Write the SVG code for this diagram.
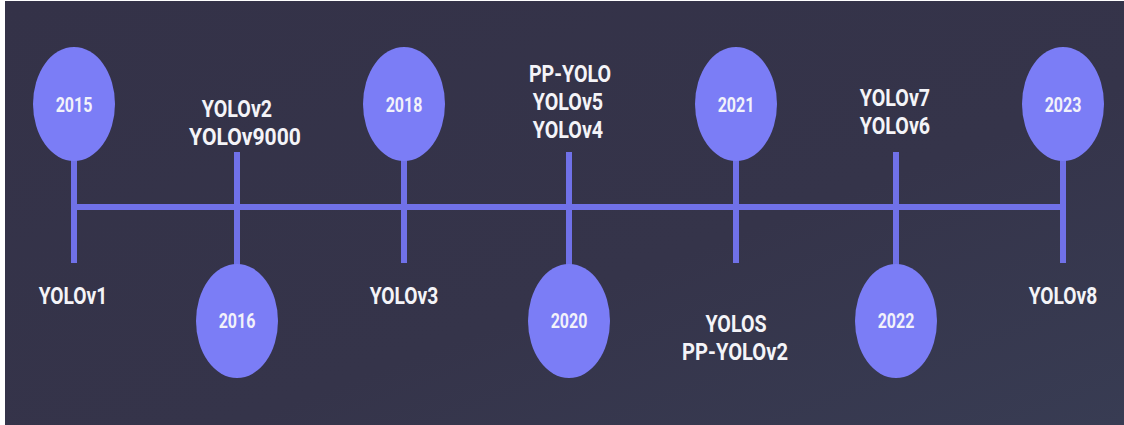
<svg xmlns="http://www.w3.org/2000/svg" width="1124" height="425" viewBox="0 0 1124 425">
  <defs>
    <linearGradient id="bg" x1="0" y1="0" x2="1" y2="1">
      <stop offset="0" stop-color="#343248"/>
      <stop offset="0.6" stop-color="#35344a"/>
      <stop offset="1" stop-color="#383c53"/>
    </linearGradient>
  </defs>
  <style>
    .axis { stroke: #7071e8; stroke-width: 6; stroke-linecap: butt; fill: none; }
    .dot { fill: #7b7df6; }
    .year { font-family: Roboto, "Liberation Sans", sans-serif; font-weight: 700; font-size: 20px; fill: #f2f2fa; text-anchor: middle; }
    .label { font-family: Roboto, "Liberation Sans", sans-serif; font-weight: 700; font-size: 24px; fill: #f4f4f8; text-anchor: middle; }
  </style>

  <!-- backdrop -->
  <rect x="0" y="0" width="1124" height="425" fill="#ffffff"/>
  <rect x="5" y="1" width="1119" height="424" fill="url(#bg)"/>

  <!-- timeline axis and stems -->
  <g id="connectors">
    <line class="axis" x1="74" y1="207" x2="1063" y2="207"/>
    <line class="axis" x1="74" y1="158" x2="74" y2="263"/>
    <line class="axis" x1="237" y1="152" x2="237" y2="268"/>
    <line class="axis" x1="404" y1="158" x2="404" y2="263"/>
    <line class="axis" x1="569" y1="152" x2="569" y2="268"/>
    <line class="axis" x1="736" y1="158" x2="736" y2="263"/>
    <line class="axis" x1="896" y1="152" x2="896" y2="268"/>
    <line class="axis" x1="1063" y1="158" x2="1063" y2="263"/>
  </g>

  <g id="n2015">
    <ellipse class="dot" cx="74" cy="104" rx="41" ry="57"/>
    <text class="year" transform="translate(74,112) scale(0.8,1)">2015</text>
    <text class="label" transform="translate(73,304) scale(0.8,1)">YOLOv1</text>
  </g>

  <g id="n2016">
    <ellipse class="dot" cx="237" cy="321" rx="41" ry="57"/>
    <text class="year" transform="translate(237,328) scale(0.8,1)">2016</text>
    <text class="label" transform="translate(237,117) scale(0.82,1)">YOLOv2</text>
    <text class="label" transform="translate(245,145) scale(0.88,1)">YOLOv9000</text>
  </g>

  <g id="n2018">
    <ellipse class="dot" cx="404" cy="104" rx="41" ry="57"/>
    <text class="year" transform="translate(404,112) scale(0.8,1)">2018</text>
    <text class="label" transform="translate(404,304) scale(0.8,1)">YOLOv3</text>
  </g>

  <g id="n2020">
    <ellipse class="dot" cx="569" cy="321" rx="41" ry="57"/>
    <text class="year" transform="translate(569,328) scale(0.8,1)">2020</text>
    <text class="label" transform="translate(570,82) scale(0.82,1)">PP-YOLO</text>
    <text class="label" transform="translate(568,110) scale(0.82,1)">YOLOv5</text>
    <text class="label" transform="translate(568,138) scale(0.82,1)">YOLOv4</text>
  </g>

  <g id="n2021">
    <ellipse class="dot" cx="736" cy="104" rx="41" ry="57"/>
    <text class="year" transform="translate(736,112) scale(0.8,1)">2021</text>
    <text class="label" transform="translate(736,332) scale(0.82,1)">YOLOS</text>
    <text class="label" transform="translate(735,360) scale(0.84,1)">PP-YOLOv2</text>
  </g>

  <g id="n2022">
    <ellipse class="dot" cx="896" cy="321" rx="41" ry="57"/>
    <text class="year" transform="translate(896,328) scale(0.8,1)">2022</text>
    <text class="label" transform="translate(895,106) scale(0.82,1)">YOLOv7</text>
    <text class="label" transform="translate(895,134) scale(0.82,1)">YOLOv6</text>
  </g>

  <g id="n2023">
    <ellipse class="dot" cx="1063" cy="104" rx="41" ry="57"/>
    <text class="year" transform="translate(1063,112) scale(0.8,1)">2023</text>
    <text class="label" transform="translate(1063,304) scale(0.8,1)">YOLOv8</text>
  </g>
</svg>
